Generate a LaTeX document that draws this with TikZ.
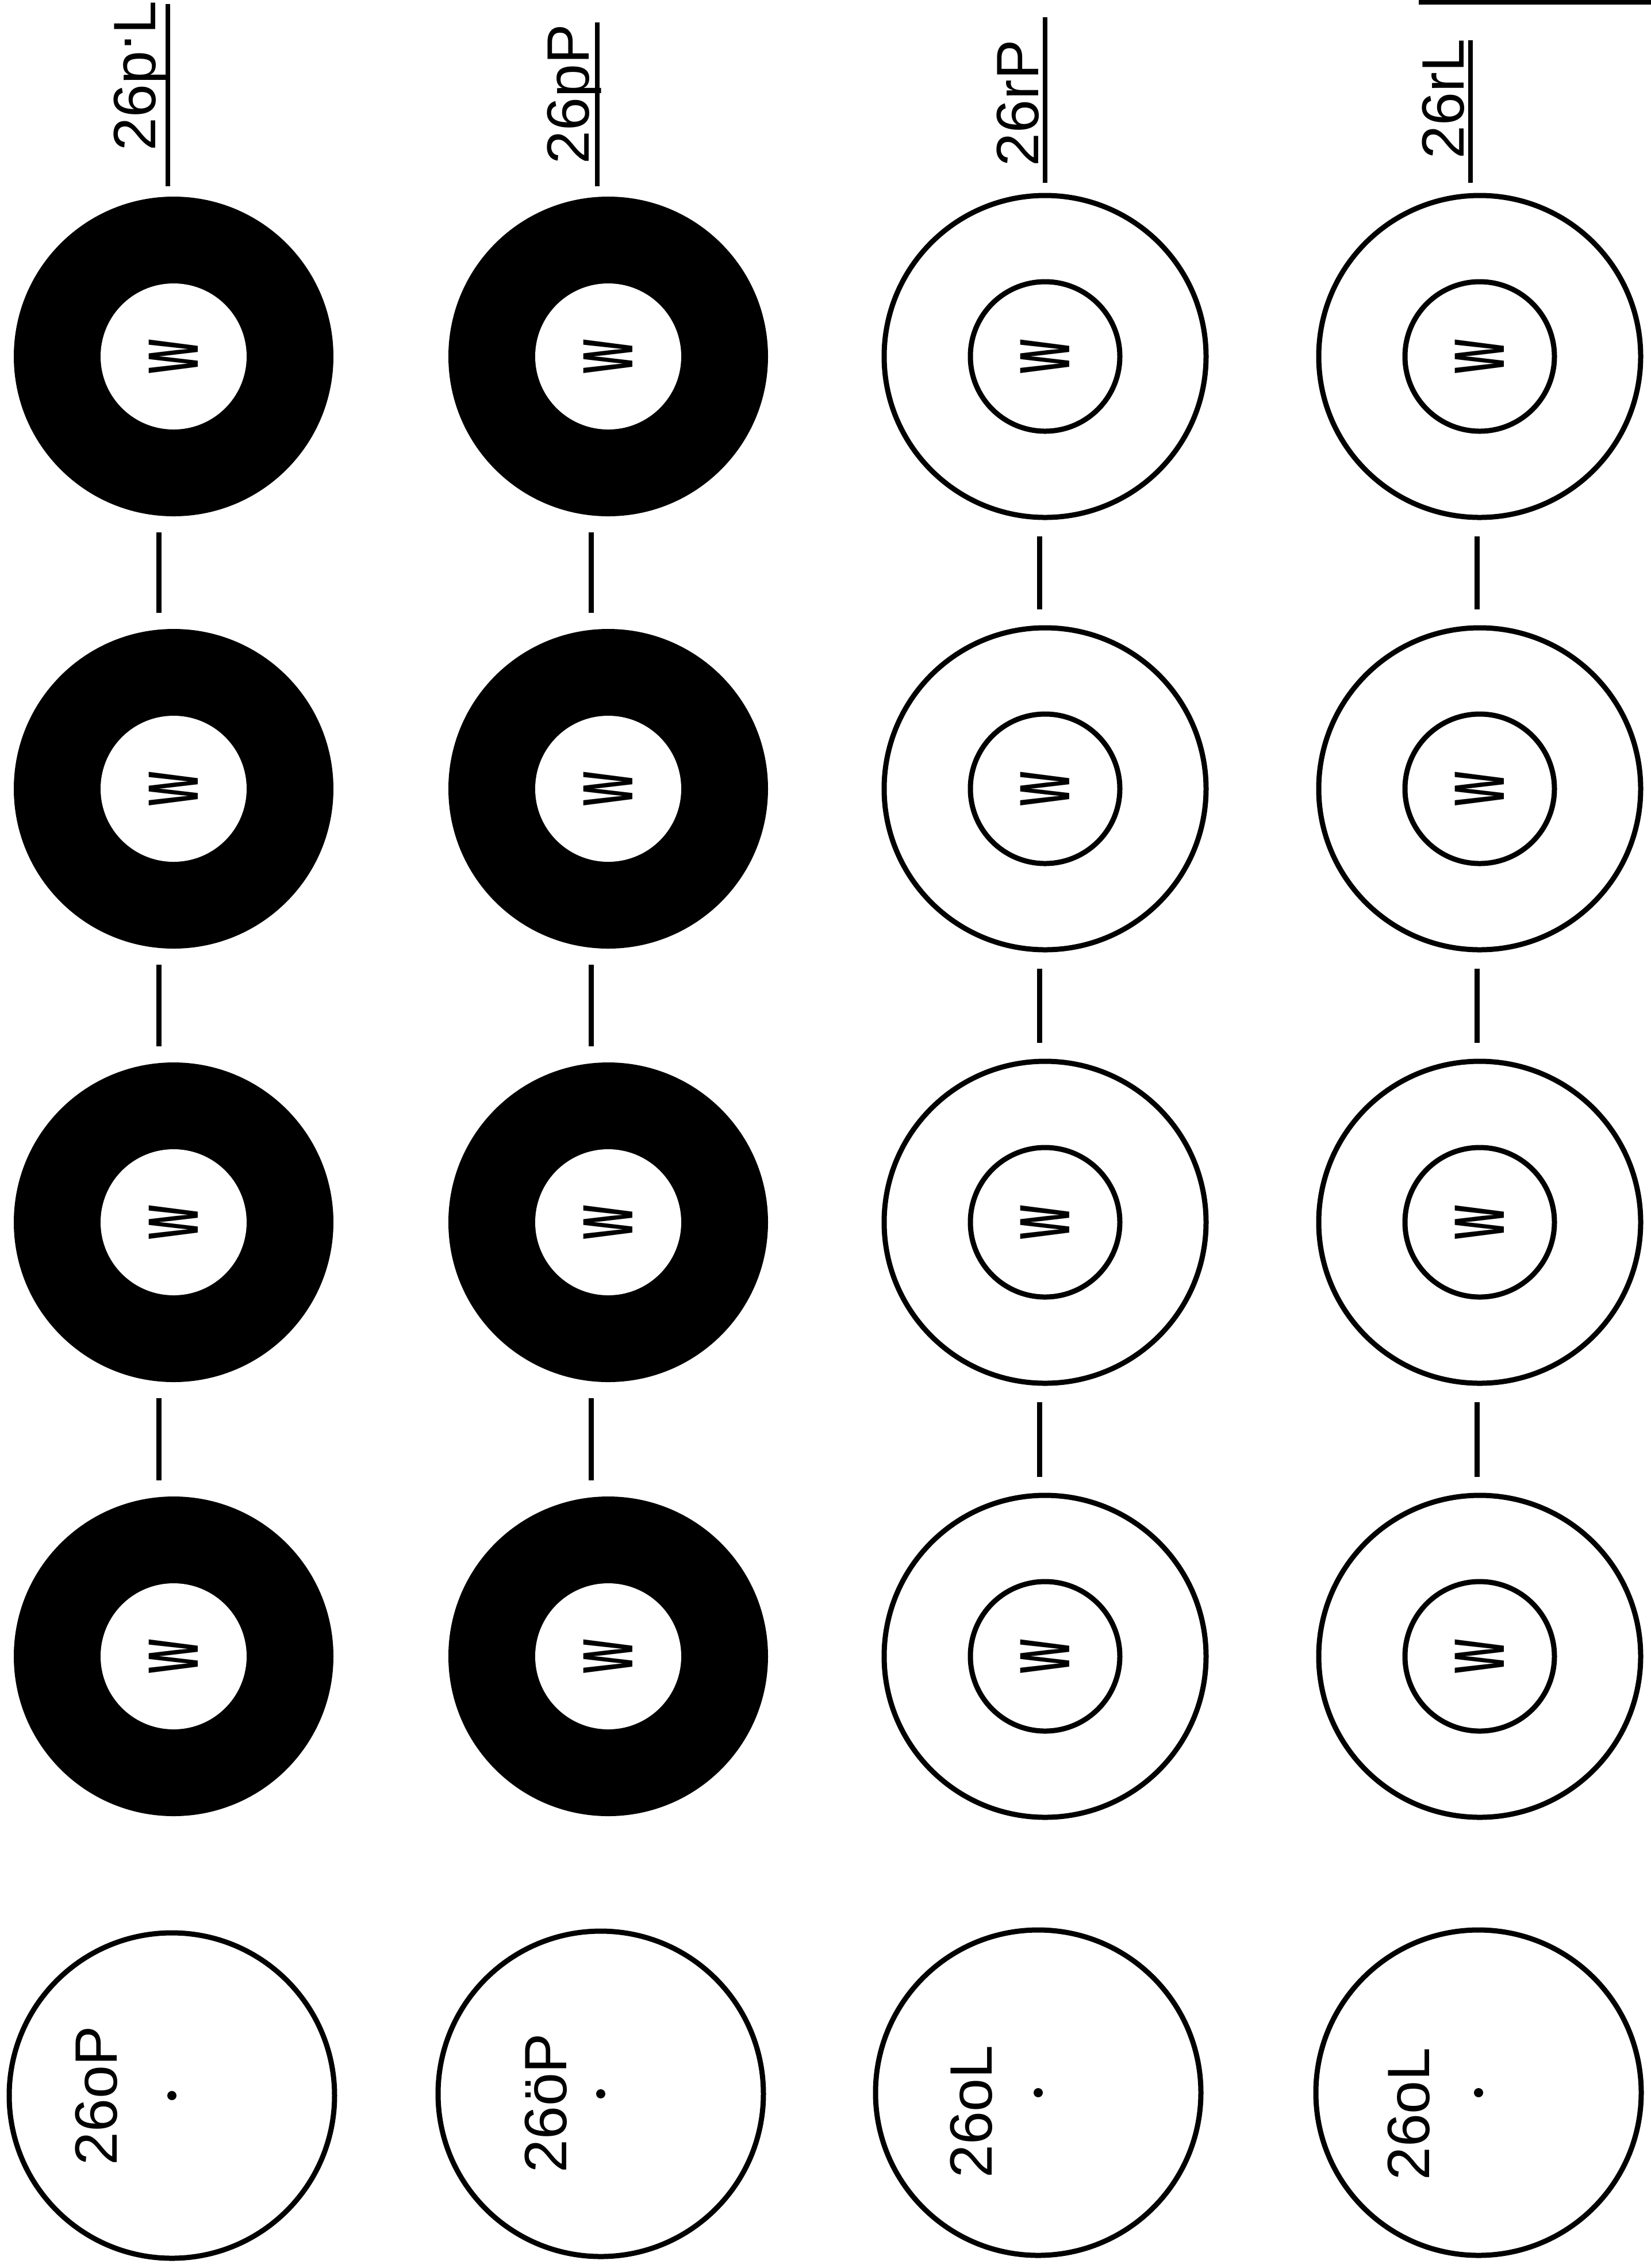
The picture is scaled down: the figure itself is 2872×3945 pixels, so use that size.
\documentclass[tikz,border=0pt]{standalone}
\usepackage{fontspec}
\setmainfont{Liberation Sans}
\begin{document}
\begin{tikzpicture}[x=0.25pt,y=-0.25pt,
  ringfill/.style={circle,fill=black,minimum size=139pt,inner sep=0pt,outer sep=0pt},
  holefill/.style={circle,fill=white,minimum size=63.5pt,inner sep=0pt,rotate=90,font=\fontsize{31}{31}\selectfont\bfseries},
  ringopen/.style={circle,draw=black,line width=2.25pt,minimum size=140pt,inner sep=0pt},
  holeopen/.style={circle,draw=black,line width=2.25pt,minimum size=65pt,inner sep=0pt,rotate=90,font=\fontsize{31}{31}\selectfont\bfseries},
  plain/.style={circle,draw=black,line width=2.25pt,minimum size=141.5pt,inner sep=0pt},
  centerdot/.style={circle,fill=black,minimum size=4pt,inner sep=0pt},
  lbl/.style={rotate=90,anchor=base west,inner sep=0pt,font=\fontsize{26}{26}\selectfont},
  intext/.style={rotate=90,inner sep=0pt,font=\fontsize{26}{26}\selectfont},
  link/.style={line width=2.25pt,shorten <=7pt,shorten >=7pt},
  tick/.style={line width=2pt,shorten >=4.5pt}]
\newcommand{\wmark}{\scalebox{0.5}[1]{W}}
% background
\fill[white] (0,0) rectangle (2872,3945);
\fill[black] (2468,0) rectangle (2872,8);

% column 1 and 2: filled rings
\foreach \c/\x in {1/302,2/1058}{
  \foreach \r/\y in {1/620,2/1372,3/2126,4/2881}{
    \node[ringfill] (r\r\c) at (\x,\y) {};
    \node[holefill] (h\r\c) at (\x,\y) {\wmark};
  }
}
% column 3 and 4: open rings
\foreach \c/\x in {3/1818,4/2574}{
  \foreach \r/\y in {1/620,2/1372,3/2126,4/2881}{
    \node[ringopen] (r\r\c) at (\x,\y) {};
    \node[holeopen] (h\r\c) at (\x,\y) {\wmark};
  }
}
% connectors between rings
\foreach \c/\o in {1/-6.5,2/-7.5,3/-2.5,4/-1.25}{
  \draw[link] ([xshift=\o pt]r1\c.south) -- ([xshift=\o pt]r2\c.north);
  \draw[link] ([xshift=\o pt]r2\c.south) -- ([xshift=\o pt]r3\c.north);
  \draw[link] ([xshift=\o pt]r3\c.south) -- ([xshift=\o pt]r4\c.north);
}

% top labels with underline ticks
\node[lbl] (l1) at (270,263) {26p\raisebox{0.4em}{.}L};
\node[lbl] (l2) at (1024,286) {26pP};
\node[lbl] (l3) at (1806,290) {26rP};
\node[lbl] (l4) at (2546,277) {26rL};
\coordinate (t1) at (292,7);
\coordinate (t2) at (1039,39);
\coordinate (t3) at (1818,30);
\coordinate (t4) at (2558,70);
\foreach \c in {1,2,3,4}{
  \draw[tick] (t\c) -- (t\c |- r1\c.north);
}

% bottom plain circles
\node[plain] (p1) at (299,3645) {};
\node[plain] (p2) at (1045,3642) {};
\node[plain] (p3) at (1806,3640) {};
\node[plain] (p4) at (2572,3640) {};
\foreach \c in {1,2,3,4}{
  \node[centerdot] (d\c) at (p\c) {};
}
\node[intext] (b1) at (168,3645) {26oP};
\node[intext] (b2) at (950,3658) {26öP};
\node[intext] (b3) at (1690,3673) {26oL};
\node[intext] (b4) at (2451,3677) {26oL};
\end{tikzpicture}
\end{document}
